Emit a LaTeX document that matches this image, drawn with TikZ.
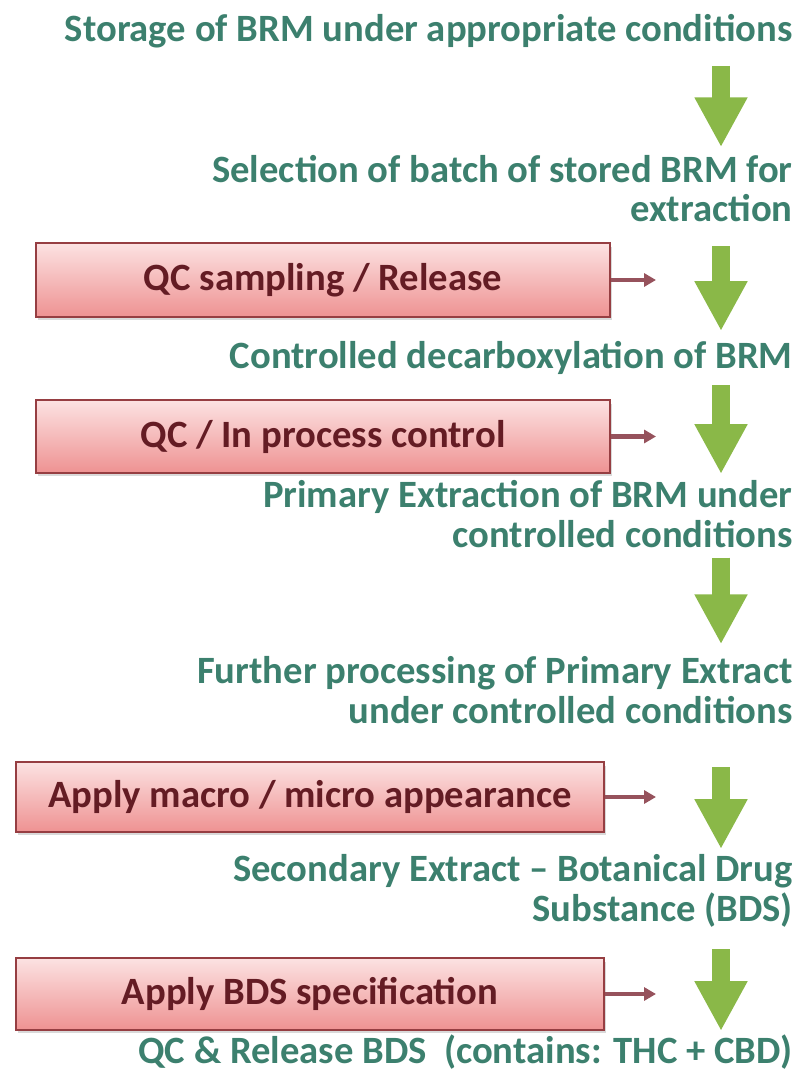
\documentclass[tikz,border=0pt]{standalone}
\usepackage{fontspec}
\setmainfont{Carlito}
\usetikzlibrary{arrows.meta,shadows,calc}

\definecolor{steptext}{RGB}{60,128,110}
\definecolor{flowgreen}{RGB}{138,184,72}
\definecolor{qcline}{RGB}{150,62,66}
\definecolor{qctop}{RGB}{252,226,226}
\definecolor{qcbottom}{RGB}{238,146,146}
\definecolor{qctext}{RGB}{100,28,36}
\definecolor{sidered}{RGB}{150,82,92}

\tikzset{
  steplabel/.style={anchor=base east, align=right, inner sep=0pt, text=steptext,
    font=\bfseries\fontsize{22}{22.4}\selectfont},
  qcbox/.style={draw=qcline, line width=1.2pt, top color=qctop, bottom color=qcbottom,
    text=qctext, font=\bfseries\fontsize{22}{22.4}\selectfont, inner sep=0pt,
    drop shadow={shadow xshift=1pt, shadow yshift=-2pt, opacity=0.3}},
  flow/.style={draw=flowgreen, line width=10.2pt, -{Triangle[width=28.3pt,length=28.3pt]}},
  side/.style={draw=sidered, line width=2.3pt, -{Triangle[width=7.4pt,length=6.8pt]}}
}

\begin{document}
\begin{tikzpicture}[x=0.02cm, y=-0.02cm]
\useasboundingbox (0,0) rectangle (800,1077);

% process steps (base = last line)
\node[steplabel] (s1) at (793, 42) {Storage of BRM under appropriate conditions};
\node[steplabel] (s2) at (793, 222) {Selection of batch of stored BRM for\\extraction};
\node[steplabel] (s3) at (793, 369) {Controlled decarboxylation of BRM};
\node[steplabel] (s4) at (793, 547) {Primary Extraction of BRM under\\controlled conditions};
\node[steplabel] (s5) at (793, 723) {Further processing of Primary Extract\\under controlled conditions};
\node[steplabel] (s6) at (793, 921) {Secondary Extract -- Botanical Drug\\Substance (BDS)};
\node[steplabel] (s7) at (793, 1063) {QC \& Release BDS~ (contains: THC + CBD)};

% QC boxes
\node[qcbox, minimum width=326.5pt, minimum height=42pt] (b1) at (323, 280) {QC sampling / Release};
\node[qcbox, minimum width=326.5pt, minimum height=41.4pt] (b2) at (323, 436.5) {QC / In process control};
\node[qcbox, minimum width=334.5pt, minimum height=39.7pt] (b3) at (310, 797) {Apply macro / micro appearance};
\node[qcbox, minimum width=334.5pt, minimum height=40.8pt] (b4) at (310, 994) {Apply BDS specification};

\coordinate (gx) at (721, 0);
\coordinate (sx) at (656, 0);

% green flow arrows
\draw[flow] ($(s1.south -| gx)+(0,17)$) -- ($(s2.north -| gx)+(0,-8)$);
\draw[flow] ($(b1.north -| gx)+(0,4)$) -- ($(b1.south -| gx)+(0,13)$);
\draw[flow] ($(b2.north -| gx)+(0,-14)$) -- (b2.south -| gx);
\draw[flow] ($(s4.south -| gx)+(0,10)$) -- ($(s5.north -| gx)+(0,-12)$);
\draw[flow] ($(b3.north -| gx)+(0,6)$) -- ($(b3.south -| gx)+(0,16)$);
\draw[flow] ($(b4.north -| gx)+(0,-8)$) -- (b4.south -| gx);

% side arrows
\draw[side] (b1.east) -- (b1.east -| sx);
\draw[side] (b2.east) -- (b2.east -| sx);
\draw[side] (b3.east) -- (b3.east -| sx);
\draw[side] (b4.east) -- (b4.east -| sx);
\end{tikzpicture}
\end{document}
